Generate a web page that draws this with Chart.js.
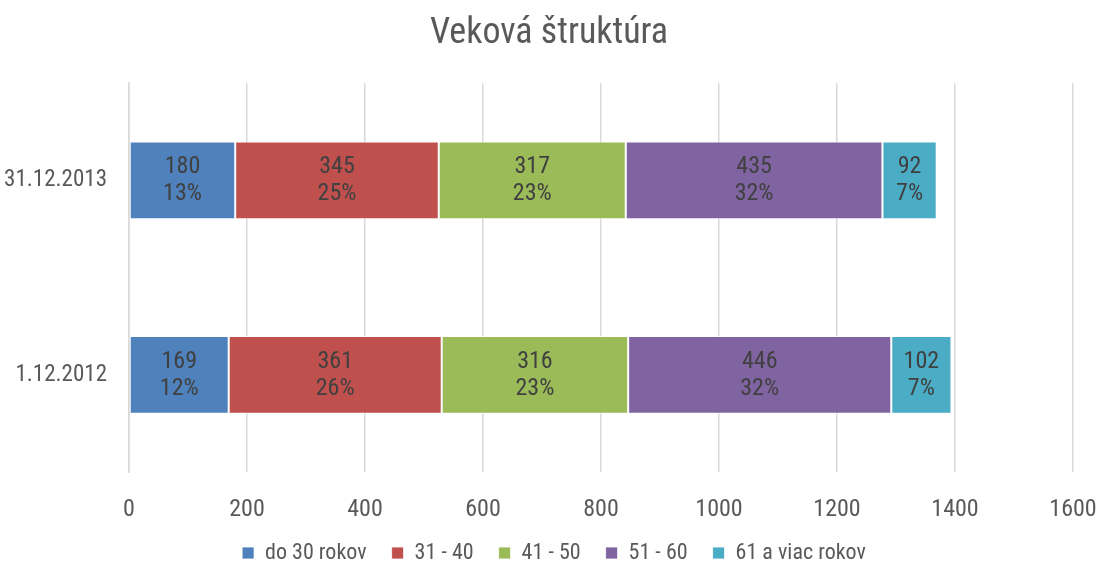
<!DOCTYPE html>
<html>
<head>
<meta charset="utf-8">
<script src="https://cdn.jsdelivr.net/npm/chart.js@4"></script>
<style>
html,body{margin:0;padding:0;background:#fff;}
#wrap{width:1098px;height:563px;}
</style>
</head>
<body>
<div id="wrap"><canvas id="c" width="1098" height="563"></canvas></div>
<script>
const categories = ['31.12.2013', '1.12.2012'];
const seriesNames = ['do 30 rokov', '31 - 40', '41 - 50', '51 - 60', '61 a viac rokov'];
const s_do30 = [180, 169];
const s_31_40 = [345, 361];
const s_41_50 = [317, 316];
const s_51_60 = [435, 446];
const s_61plus = [92, 102];
const xTicks = [0, 200, 400, 600, 800, 1000, 1200, 1400, 1600];

const colors = ['#4F81BD', '#C0504D', '#9BBB59', '#8064A2', '#4BACC6'];
const seriesValues = [s_do30, s_31_40, s_41_50, s_51_60, s_61plus];
const FONT = "'Liberation Sans Narrow', 'Arial Narrow', 'Roboto Condensed', 'Liberation Sans', sans-serif";

const totals = categories.map((_, i) => seriesValues.reduce((a, s) => a + s[i], 0));

const labelPlugin = {
  id: 'barLabels',
  afterDatasetsDraw(chart) {
    const ctx = chart.ctx;
    ctx.save();
    ctx.font = '24px ' + FONT;
    ctx.fillStyle = '#404040';
    ctx.textAlign = 'center';
    ctx.textBaseline = 'middle';
    chart.data.datasets.forEach((ds, di) => {
      const meta = chart.getDatasetMeta(di);
      meta.data.forEach((bar, i) => {
        const v = ds.data[i];
        const pct = Math.round(v / totals[i] * 100) + '%';
        const cx = (bar.x + bar.base) / 2;
        ctx.fillText(String(v), cx, bar.y - 13);
        ctx.fillText(pct, cx, bar.y + 14);
      });
    });
    ctx.restore();
  }
};

const legendShift = {
  id: 'legendShift',
  afterLayout(chart) {
    if (chart.legend) { chart.legend.left += 5; chart.legend.right += 5; }
  }
};

new Chart(document.getElementById('c'), {
  type: 'bar',
  data: {
    labels: categories,
    datasets: seriesNames.map((n, k) => ({
      label: n,
      data: seriesValues[k],
      backgroundColor: colors[k],
      borderColor: 'rgba(255,255,255,0.8)',
      borderWidth: 1,
      borderSkipped: false,
      barPercentage: 0.4,
      categoryPercentage: 1.0
    }))
  },
  options: {
    indexAxis: 'y',
    responsive: false,
    animation: false,
    devicePixelRatio: 1,
    layout: { padding: { left: 0, right: 0, top: 8, bottom: 0 } },
    plugins: {
      title: {
        display: true,
        text: 'Veková štruktúra',
        color: '#595959',
        font: { family: FONT, size: 36, weight: 'normal' },
        padding: { top: 4, bottom: 28 }
      },
      legend: {
        position: 'bottom',
        maxHeight: 46,
        labels: {
          color: '#595959',
          font: { family: FONT, size: 22 },
          boxWidth: 12,
          boxHeight: 12,
          padding: 25
        }
      },
      tooltip: { enabled: false }
    },
    scales: {
      x: {
        stacked: true,
        min: 0,
        max: 1600,
        afterBuildTicks: (scale) => { scale.ticks = xTicks.map(v => ({ value: v })); },
        grid: { color: '#d9d9d9', lineWidth: 1.5, drawTicks: false },
        border: { display: false },
        ticks: { color: '#595959', font: { family: FONT, size: 24 }, padding: 24, callback: (v) => String(v) },
        afterFit: (scale) => { scale.height = 45; scale.paddingRight = 25; scale.paddingLeft = 0; }
      },
      y: {
        stacked: true,
        grid: { display: false, drawTicks: false },
        border: { display: true, color: '#d9d9d9', width: 1.5 },
        ticks: { color: '#595959', font: { family: FONT, size: 23 }, padding: 22 },
        afterFit: (scale) => { scale.width = 129; }
      }
    }
  },
  plugins: [labelPlugin, legendShift]
});
</script>
</body>
</html>
